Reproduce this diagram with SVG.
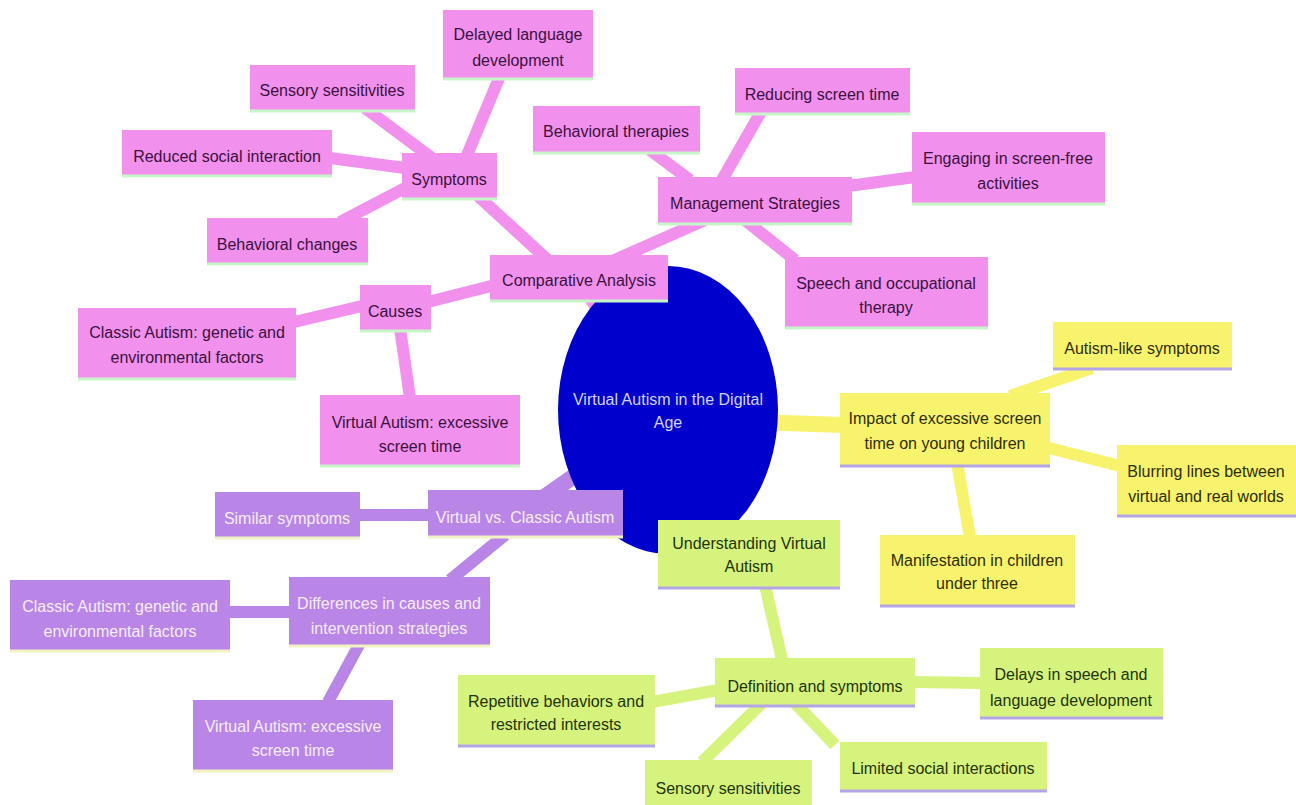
<svg xmlns="http://www.w3.org/2000/svg" width="1296" height="805" viewBox="0 0 1296 805">
<style>
text{font-family:"Liberation Sans",Arial,sans-serif;font-size:16px;text-anchor:middle}
.pk rect{fill:#F290EE}
.pk text{fill:#3A1040}
.pk line.sh{stroke:#C8F5C8}
.pu rect{fill:#B986E8}
.pu text{fill:#F6ECFF}
.pu line.sh{stroke:#F2F2C4}
.ye rect{fill:#F8F36C}
.ye text{fill:#2E2E00}
.ye line.sh{stroke:#B4A6E6}
.gr rect{fill:#D6F37E}
.gr text{fill:#233300}
.gr line.sh{stroke:#B4A6E6}
line.sh{stroke-width:3}
#connectors line{stroke-linecap:butt}
.cp{stroke:#F290EE;stroke-width:12}
.cu{stroke:#B986E8;stroke-width:12}
.cy{stroke:#F8F36C;stroke-width:12}
.cg{stroke:#D6F37E;stroke-width:12}
</style>
<rect width="1296" height="805" fill="#FFFFFF"/>
<g id="connectors">
<line class="cp" x1="668" y1="410" x2="580" y2="280" style="stroke-width:16"/>
<line class="cp" x1="550" y1="262" x2="478" y2="196"/>
<line class="cp" x1="610" y1="262" x2="705" y2="220"/>
<line class="cp" x1="495" y1="285" x2="428" y2="302"/>
<line class="cp" x1="465" y1="160" x2="500" y2="76"/>
<line class="cp" x1="432" y1="158" x2="365" y2="108"/>
<line class="cp" x1="405" y1="168" x2="330" y2="158"/>
<line class="cp" x1="405" y1="188" x2="340" y2="222"/>
<line class="cp" x1="690" y1="180" x2="650" y2="150"/>
<line class="cp" x1="722" y1="180" x2="762" y2="110"/>
<line class="cp" x1="848" y1="186" x2="915" y2="177"/>
<line class="cp" x1="745" y1="220" x2="795" y2="260"/>
<line class="cp" x1="362" y1="306" x2="294" y2="322"/>
<line class="cp" x1="400" y1="328" x2="410" y2="398"/>
<line class="cy" x1="700" y1="420" x2="842" y2="425" style="stroke-width:16"/>
<line class="cy" x1="1010" y1="396" x2="1092" y2="368"/>
<line class="cy" x1="1045" y1="447" x2="1120" y2="466"/>
<line class="cy" x1="957" y1="463" x2="970" y2="537"/>
<line class="cg" x1="668" y1="410" x2="740" y2="540" style="stroke-width:16"/>
<line class="cg" x1="765" y1="585" x2="782" y2="660"/>
<line class="cg" x1="912" y1="682" x2="982" y2="683"/>
<line class="cg" x1="718" y1="690" x2="652" y2="702"/>
<line class="cg" x1="762" y1="703" x2="702" y2="762"/>
<line class="cg" x1="795" y1="703" x2="835" y2="745"/>
<line class="cu" x1="668" y1="410" x2="540" y2="500" style="stroke-width:16"/>
<line class="cu" x1="358" y1="515" x2="430" y2="515"/>
<line class="cu" x1="505" y1="535" x2="450" y2="580"/>
<line class="cu" x1="228" y1="612" x2="292" y2="612"/>
<line class="cu" x1="360" y1="643" x2="328" y2="702"/>
</g>
<g id="center">
<ellipse cx="668" cy="410" rx="110" ry="144" fill="#0000CC"/>
<text x="668" y="405" fill="#D4D4FF">Virtual Autism in the Digital</text>
<text x="668" y="428" fill="#D4D4FF">Age</text>
</g>
<g id="n-comparative" class="pk"><rect x="490" y="255" width="178" height="45"/><line class="sh" x1="490" y1="301" x2="668" y2="301"/><text x="579" y="286">Comparative Analysis</text></g>
<g id="n-symptoms" class="pk"><rect x="402" y="153" width="95" height="45"/><line class="sh" x1="402" y1="199" x2="497" y2="199"/><text x="449" y="185">Symptoms</text></g>
<g id="n-delayed" class="pk"><rect x="443" y="10" width="150" height="68"/><line class="sh" x1="443" y1="79" x2="593" y2="79"/><text x="518" y="40">Delayed language</text><text x="518" y="66">development</text></g>
<g id="n-sensory1" class="pk"><rect x="250" y="65" width="165" height="45"/><line class="sh" x1="250" y1="111" x2="415" y2="111"/><text x="332" y="96">Sensory sensitivities</text></g>
<g id="n-reduced" class="pk"><rect x="122" y="130" width="210" height="45"/><line class="sh" x1="122" y1="176" x2="332" y2="176"/><text x="227" y="162">Reduced social interaction</text></g>
<g id="n-behchanges" class="pk"><rect x="207" y="218" width="161" height="45"/><line class="sh" x1="207" y1="264" x2="368" y2="264"/><text x="287" y="250">Behavioral changes</text></g>
<g id="n-management" class="pk"><rect x="658" y="177" width="194" height="46"/><line class="sh" x1="658" y1="224" x2="852" y2="224"/><text x="755" y="209">Management Strategies</text></g>
<g id="n-reducing" class="pk"><rect x="735" y="68" width="175" height="45"/><line class="sh" x1="735" y1="114" x2="910" y2="114"/><text x="822" y="100">Reducing screen time</text></g>
<g id="n-behther" class="pk"><rect x="533" y="106" width="167" height="46"/><line class="sh" x1="533" y1="153" x2="700" y2="153"/><text x="616" y="137">Behavioral therapies</text></g>
<g id="n-engaging" class="pk"><rect x="912" y="132" width="193" height="71"/><line class="sh" x1="912" y1="204" x2="1105" y2="204"/><text x="1008" y="164">Engaging in screen-free</text><text x="1008" y="189">activities</text></g>
<g id="n-speech" class="pk"><rect x="785" y="257" width="203" height="70"/><line class="sh" x1="785" y1="328" x2="988" y2="328"/><text x="886" y="289">Speech and occupational</text><text x="886" y="313">therapy</text></g>
<g id="n-causes" class="pk"><rect x="360" y="285" width="71" height="45"/><line class="sh" x1="360" y1="331" x2="431" y2="331"/><text x="395" y="317">Causes</text></g>
<g id="n-classic1" class="pk"><rect x="78" y="308" width="218" height="70"/><line class="sh" x1="78" y1="379" x2="296" y2="379"/><text x="187" y="338">Classic Autism: genetic and</text><text x="187" y="363">environmental factors</text></g>
<g id="n-virtual1" class="pk"><rect x="320" y="395" width="200" height="70"/><line class="sh" x1="320" y1="466" x2="520" y2="466"/><text x="420" y="428">Virtual Autism: excessive</text><text x="420" y="452">screen time</text></g>
<g id="n-impact" class="ye"><rect x="840" y="393" width="210" height="72"/><line class="sh" x1="840" y1="466" x2="1050" y2="466"/><text x="945" y="424">Impact of excessive screen</text><text x="945" y="449">time on young children</text></g>
<g id="n-autlike" class="ye"><rect x="1053" y="322" width="179" height="46"/><line class="sh" x1="1053" y1="369" x2="1232" y2="369"/><text x="1142" y="354">Autism-like symptoms</text></g>
<g id="n-blurring" class="ye"><rect x="1117" y="445" width="179" height="70"/><line class="sh" x1="1117" y1="516" x2="1296" y2="516"/><text x="1206" y="477">Blurring lines between</text><text x="1206" y="502">virtual and real worlds</text></g>
<g id="n-manif" class="ye"><rect x="880" y="535" width="195" height="70"/><line class="sh" x1="880" y1="606" x2="1075" y2="606"/><text x="977" y="566">Manifestation in children</text><text x="977" y="589">under three</text></g>
<g id="n-understanding" class="gr"><rect x="658" y="520" width="182" height="67"/><line class="sh" x1="658" y1="588" x2="840" y2="588"/><text x="749" y="549">Understanding Virtual</text><text x="749" y="572">Autism</text></g>
<g id="n-definition" class="gr"><rect x="715" y="658" width="200" height="47"/><line class="sh" x1="715" y1="706" x2="915" y2="706"/><text x="815" y="692">Definition and symptoms</text></g>
<g id="n-delays" class="gr"><rect x="980" y="648" width="183" height="69"/><line class="sh" x1="980" y1="718" x2="1163" y2="718"/><text x="1071" y="680">Delays in speech and</text><text x="1071" y="706">language development</text></g>
<g id="n-repetitive" class="gr"><rect x="458" y="675" width="197" height="70"/><line class="sh" x1="458" y1="746" x2="655" y2="746"/><text x="556" y="707">Repetitive behaviors and</text><text x="556" y="730">restricted interests</text></g>
<g id="n-limited" class="gr"><rect x="840" y="742" width="207" height="48"/><line class="sh" x1="840" y1="791" x2="1047" y2="791"/><text x="943" y="774">Limited social interactions</text></g>
<g id="n-sensory2" class="gr"><rect x="645" y="760" width="167" height="45"/><text x="728" y="794">Sensory sensitivities</text></g>
<g id="n-vvc" class="pu"><rect x="428" y="490" width="195" height="46"/><line class="sh" x1="428" y1="537" x2="623" y2="537"/><text x="525" y="523">Virtual vs. Classic Autism</text></g>
<g id="n-similar" class="pu"><rect x="215" y="492" width="145" height="45"/><line class="sh" x1="215" y1="538" x2="360" y2="538"/><text x="287" y="524">Similar symptoms</text></g>
<g id="n-differences" class="pu"><rect x="289" y="577" width="201" height="68"/><line class="sh" x1="289" y1="646" x2="490" y2="646"/><text x="389" y="609">Differences in causes and</text><text x="389" y="634">intervention strategies</text></g>
<g id="n-classic2" class="pu"><rect x="10" y="580" width="220" height="70"/><line class="sh" x1="10" y1="651" x2="230" y2="651"/><text x="120" y="612">Classic Autism: genetic and</text><text x="120" y="637">environmental factors</text></g>
<g id="n-virtual2" class="pu"><rect x="193" y="700" width="200" height="70"/><line class="sh" x1="193" y1="771" x2="393" y2="771"/><text x="293" y="732">Virtual Autism: excessive</text><text x="293" y="756">screen time</text></g>
</svg>
